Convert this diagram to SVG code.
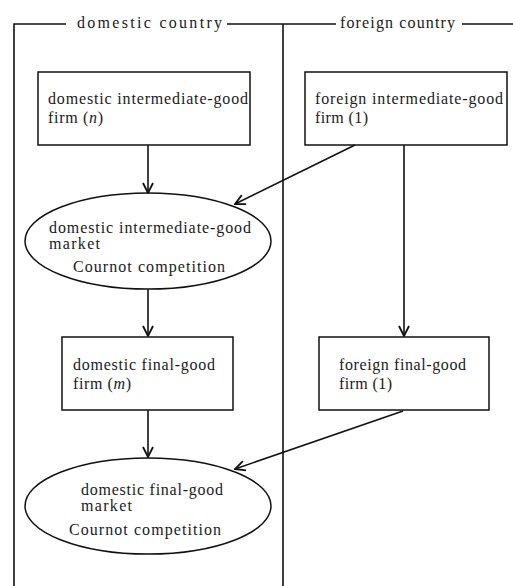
<svg xmlns="http://www.w3.org/2000/svg" width="513" height="586" viewBox="0 0 513 586">
<style>
text { font-family: 'Liberation Serif', 'Times New Roman', serif; font-size: 16px; fill: #1a1a1a; }
.frame { stroke: #111; stroke-width: 1.6; fill: none; }
.node { stroke: #111; stroke-width: 1.5; fill: #fff; }
.conn { stroke: #111; stroke-width: 1.6; fill: none; marker-end: url(#arr); }
</style>
<defs>
<marker id="arr" viewBox="0 0 12 12" refX="11" refY="6" markerWidth="12" markerHeight="12" markerUnits="userSpaceOnUse" orient="auto">
<path d="M1,1 L11,6 L1,11" fill="none" stroke="#111" stroke-width="1.8"/>
</marker>
</defs>
<rect width="513" height="586" fill="#fff"/>
<g id="frame">
<path class="frame" d="M14,586 V24 H66 M227,24 H336 M462,24 H513 M283,24 V586"/>
<text x="77" y="28" textLength="145">domestic country</text>
<text x="340" y="28" textLength="115">foreign country</text>
</g>
<g id="dom-int-firm">
<rect class="node" x="38" y="72" width="212" height="73"/>
<text x="48" y="104" textLength="200">domestic intermediate-good</text>
<text x="48" y="123" textLength="55">firm (<tspan font-style="italic">n</tspan>)</text>
</g>
<g id="for-int-firm">
<rect class="node" x="305" y="72" width="202" height="73"/>
<text x="315" y="104" textLength="188">foreign intermediate-good</text>
<text x="315" y="123" textLength="53">firm (1)</text>
</g>
<g id="dom-int-market">
<ellipse class="node" cx="148" cy="241" rx="123" ry="48"/>
<text x="49" y="233" textLength="202">domestic intermediate-good</text>
<text x="49" y="249" textLength="51">market</text>
<text x="73" y="272" textLength="152">Cournot competition</text>
</g>
<g id="dom-final-firm">
<rect class="node" x="62" y="337" width="171" height="73"/>
<text x="73" y="370" textLength="142">domestic final-good</text>
<text x="73" y="389" textLength="58">firm (<tspan font-style="italic">m</tspan>)</text>
</g>
<g id="for-final-firm">
<rect class="node" x="319" y="337" width="170" height="73"/>
<text x="339" y="370" textLength="127">foreign final-good</text>
<text x="339" y="389" textLength="53">firm (1)</text>
</g>
<g id="dom-final-market">
<ellipse class="node" cx="148" cy="506" rx="123" ry="48"/>
<text x="81" y="495" textLength="142">domestic final-good</text>
<text x="81" y="511" textLength="51">market</text>
<text x="69" y="535" textLength="152">Cournot competition</text>
</g>
<g id="connectors">
<line class="conn" x1="148" y1="145" x2="148" y2="193"/>
<line class="conn" x1="355" y1="145" x2="235" y2="204"/>
<line class="conn" x1="148" y1="289" x2="148" y2="336"/>
<line class="conn" x1="404" y1="145" x2="404" y2="336"/>
<line class="conn" x1="148" y1="410" x2="148" y2="457"/>
<line class="conn" x1="403" y1="411" x2="235" y2="469"/>
</g>
</svg>
